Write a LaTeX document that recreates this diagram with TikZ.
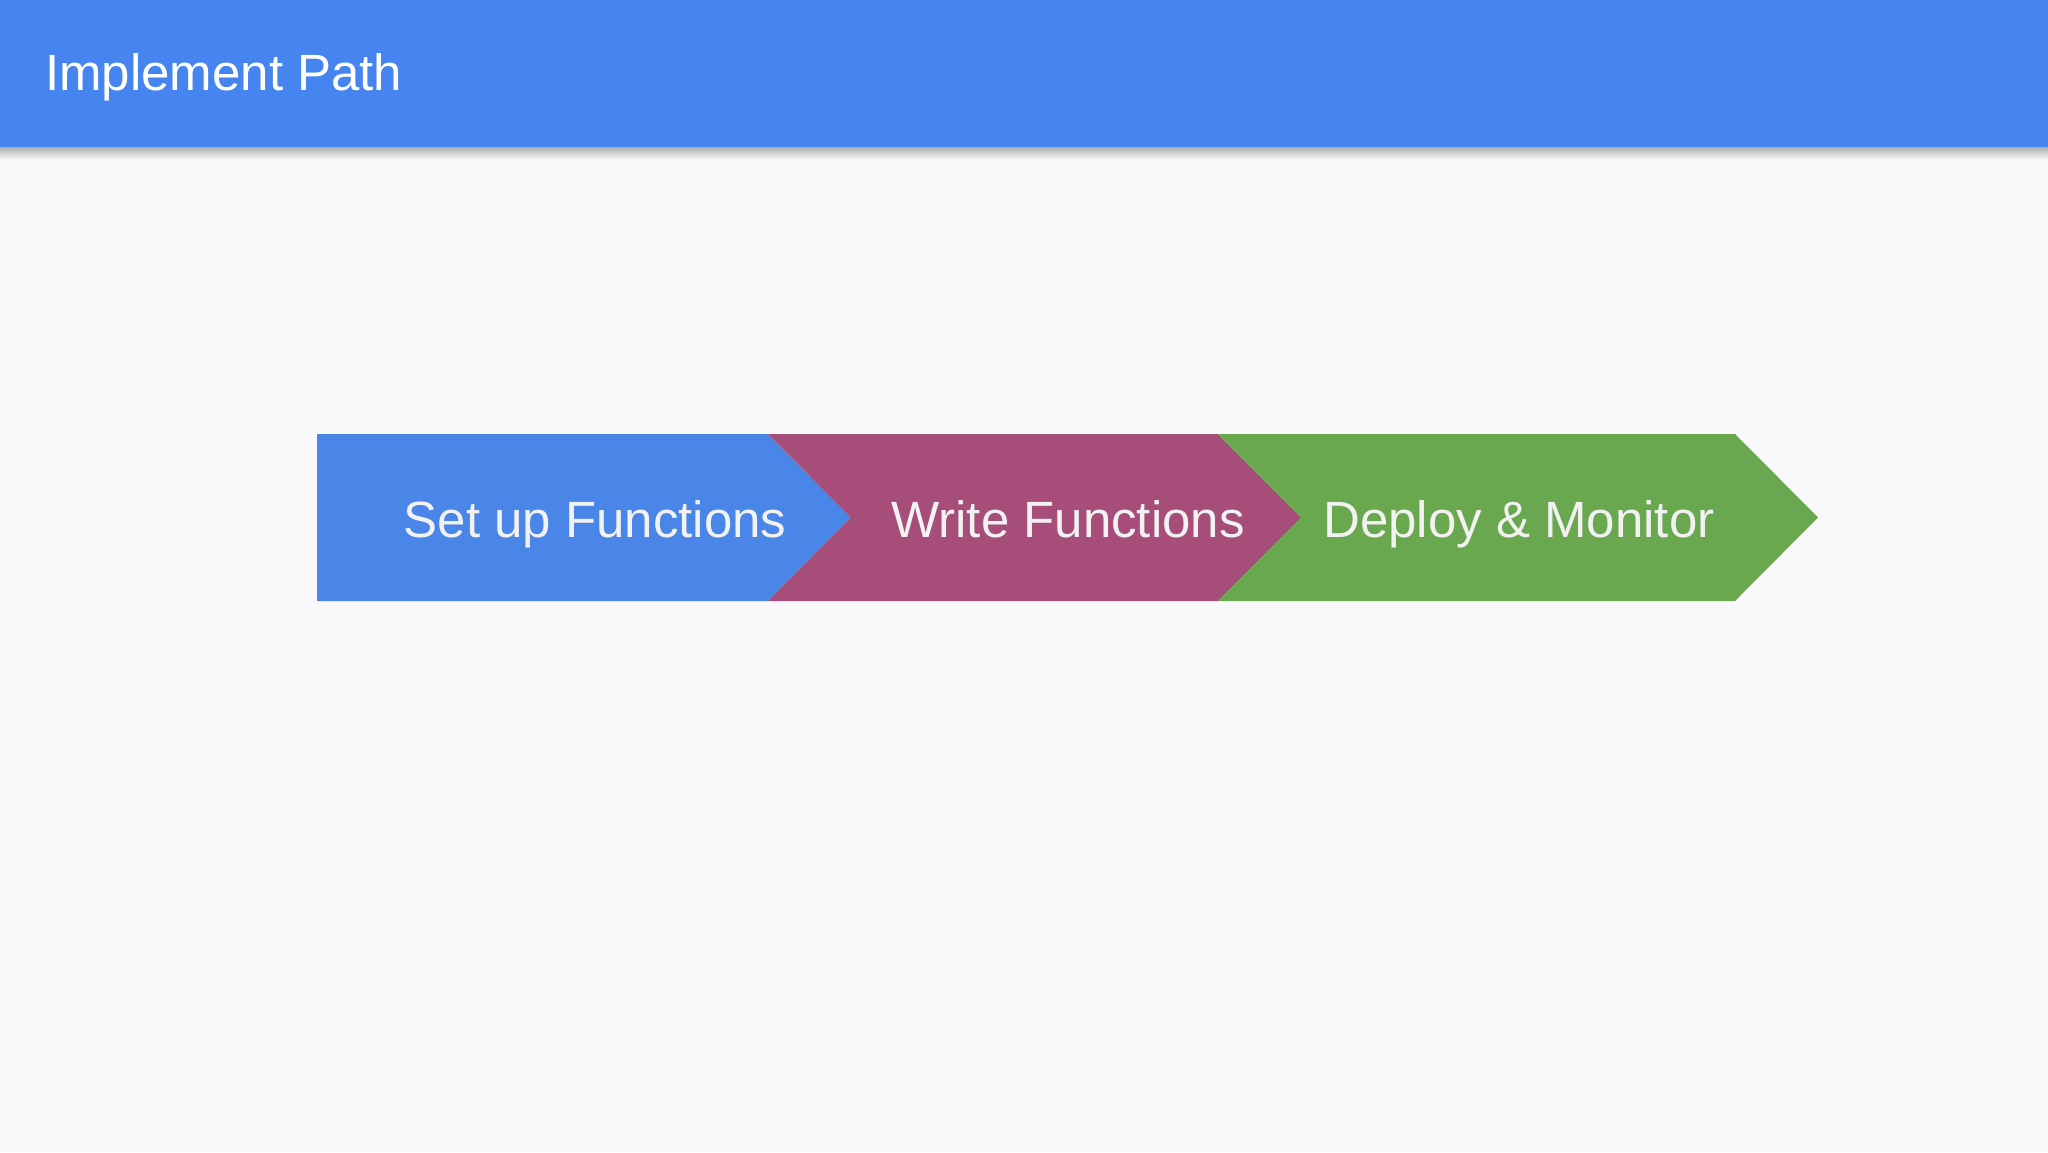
\documentclass[tikz,border=0pt]{standalone}
\usepackage{fontspec}
\setmainfont{Liberation Sans}
\usepackage{tikz}

\definecolor{pagebg}{HTML}{F9F8FA}
\definecolor{headblue}{HTML}{4685F0}
\definecolor{setupblue}{HTML}{4A86E8}
\definecolor{writeplum}{HTML}{A64D79}
\definecolor{deploygreen}{HTML}{6AA84F}
\definecolor{textwhite}{HTML}{F2F2F2}

\begin{document}
\begin{tikzpicture}[x=1pt, y=-1pt,
  title/.style = {text=white, font=\fontsize{51}{60}\selectfont, inner sep=0pt, anchor=base west},
  label/.style = {text=textwhite, font=\fontsize{51}{60}\selectfont, inner sep=0pt, anchor=base}]
\useasboundingbox (0,0) rectangle (2048,1152);
\fill[pagebg] (0,0) rectangle (2048,1152);
% header bar and its shadow
\foreach \i in {0,...,12}{
  \pgfmathsetmacro\sh{30-2.4*\i}
  \fill[black!\sh!pagebg] (0,147+\i) rectangle (2048,148+\i);
}
\fill[headblue] (0,0) rectangle (2048,147);
\node[title] (head) at (45,90) {Implement Path};
% chevrons
\fill[setupblue] (317,434) -- (768,434) -- (851,517.5) -- (768,601) -- (317,601) -- cycle;
\fill[writeplum] (768,434) -- (1218,434) -- (1301,517.5) -- (1218,601) -- (768,601) -- (851,517.5) -- cycle;
\fill[deploygreen] (1218,434) -- (1735,434) -- (1818,517.5) -- (1735,601) -- (1218,601) -- (1301,517.5) -- cycle;
\node[label] (setup) at (595,537) {Set up Functions};
\node[label] (write) at (1068,537) {Write Functions};
\node[label] (deploy) at (1519,537) {Deploy \& Monitor};
\end{tikzpicture}
\end{document}
